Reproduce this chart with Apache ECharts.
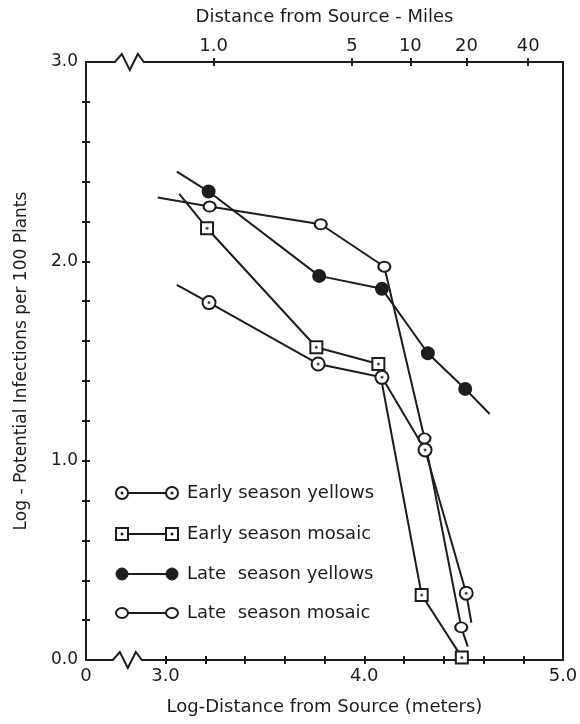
<!DOCTYPE html>
<html>
<head>
<meta charset="utf-8">
<script src="https://cdn.jsdelivr.net/npm/echarts@6/dist/echarts.min.js"></script>
<style>
  html, body { margin: 0; background: #fff; }
  #main { width: 580px; height: 724px; }
</style>
</head>
<body>
<div id="main"></div>
<script>
// axis ticks and labels (x = log distance in meters)
var xTicks = [3.0, 3.2, 3.4, 3.6, 3.8, 4.0, 4.2, 4.4, 4.6, 4.8];
var xLabels = [2.6, 3.0, 4.0, 5.0];
var yTicks = [0.2, 0.4, 0.6, 0.8, 1.0, 1.2, 1.4, 1.6, 1.8, 2.0, 2.2, 2.4, 2.6, 2.8];
var yLabels = [0, 1, 2, 3];
// top axis: miles, placed at their log-meter position
var mileTicks = [3.242, 3.938, 4.232, 4.514, 4.825];
var mileLabels = ["1.0", "5", "10", "20", "40"];

// Early season yellows
var eyX = [3.219, 3.768, 4.089, 4.306, 4.513];
var eyY = [1.793, 1.485, 1.418, 1.054, 0.335];
var eyLead = [3.057, 1.882];
var eyTail = [4.539, 0.187];
// Early season mosaic
var emX = [3.209, 3.759, 4.071, 4.289, 4.491];
var emY = [2.166, 1.569, 1.485, 0.326, 0.013];
var emLead = [3.069, 2.338];
// Late season yellows
var lyX = [3.217, 3.773, 4.089, 4.32, 4.508];
var lyY = [2.35, 1.927, 1.862, 1.539, 1.36];
var lyLead = [3.057, 2.45];
var lyTail = [4.631, 1.234];
// Late season mosaic
var lmX = [3.222, 3.781, 4.101, 4.303, 4.488];
var lmY = [2.275, 2.186, 1.973, 1.112, 0.164];
var lmLead = [2.961, 2.32];
var lmTail = [4.521, 0.067];

var INK = "#1d1d1d";
var FONT = "DejaVu Sans";

var chart = echarts.init(document.getElementById("main"));

function pts(xs, ys) {
  var out = [];
  for (var i = 0; i < xs.length; i++) out.push([xs[i], ys[i]]);
  return out;
}

function lineSeries(name, xs, ys, lead, tail, symbol, size, fill) {
  var data = [];
  if (lead) data.push({ value: lead, symbol: "none" });
  data = data.concat(pts(xs, ys));
  if (tail) data.push({ value: tail, symbol: "none" });
  return {
    name: name,
    type: "line",
    data: data,
    symbol: symbol,
    symbolSize: size,
    showAllSymbol: true,
    lineStyle: { color: INK, width: 2 },
    itemStyle: { color: fill, borderColor: INK, borderWidth: 2 },
    z: 3,
  };
}

function dotSeries(xs, ys) {
  return {
    type: "scatter",
    data: pts(xs, ys),
    symbol: "circle",
    symbolSize: 3,
    itemStyle: { color: INK },
    z: 5,
  };
}

var baseX = { type: "value", min: 2.6, max: 5.0, splitLine: { show: false } };
var baseY = { type: "value", min: 0, max: 3, splitLine: { show: false } };
var axisLine = { show: true, onZero: false, lineStyle: { color: INK, width: 2 } };
var noLine = { show: false, onZero: false };
var tickStyle = { color: INK, width: 2 };

var option = {
  backgroundColor: "#fff",
  animation: false,
  grid: { left: 86, right: 17, top: 62, bottom: 64, outerBoundsMode: "none", containLabel: false },
  xAxis: [
    Object.assign({}, baseX, {
      position: "bottom",
      name: "Log-Distance from Source (meters)",
      nameLocation: "middle",
      nameGap: 38,
      nameTextStyle: { fontFamily: FONT, fontSize: 18, color: INK },
      axisLine: axisLine,
      axisTick: { show: true, inside: false, length: 4, customValues: xTicks, lineStyle: tickStyle },
      axisLabel: {
        customValues: xLabels,
        margin: 7,
        fontFamily: FONT, fontSize: 18, color: INK,
        formatter: function (v) { return v === 2.6 ? "0" : v.toFixed(1); },
      },
    }),
    Object.assign({}, baseX, {
      position: "top",
      name: "Distance from Source - Miles",
      nameLocation: "middle",
      nameGap: 36,
      nameTextStyle: { fontFamily: FONT, fontSize: 18, color: INK },
      axisLine: axisLine,
      axisTick: { show: true, inside: false, length: 4, customValues: mileTicks, lineStyle: tickStyle },
      axisLabel: {
        customValues: mileTicks,
        margin: 7,
        fontFamily: FONT, fontSize: 18, color: INK,
        formatter: function (v) {
          var i = mileTicks.indexOf(v);
          return i >= 0 ? mileLabels[i] : "";
        },
      },
    }),
    Object.assign({}, baseX, {
      position: "bottom",
      axisLine: noLine,
      axisTick: { show: true, inside: true, length: 4, customValues: xTicks, lineStyle: tickStyle },
      axisLabel: { show: false },
    }),
    Object.assign({}, baseX, {
      position: "top",
      axisLine: noLine,
      axisTick: { show: true, inside: true, length: 4, customValues: mileTicks, lineStyle: tickStyle },
      axisLabel: { show: false },
    }),
  ],
  yAxis: [
    Object.assign({}, baseY, {
      position: "left",
      name: "Log - Potential Infections per 100 Plants",
      nameLocation: "middle",
      nameGap: 56,
      nameTextStyle: { fontFamily: FONT, fontSize: 17, color: INK },
      axisLine: axisLine,
      axisTick: { show: true, inside: false, length: 4, customValues: yTicks, lineStyle: tickStyle },
      axisLabel: {
        customValues: yLabels,
        margin: 8,
        fontFamily: FONT, fontSize: 17, color: INK,
        formatter: function (v) { return v.toFixed(1); },
      },
    }),
    Object.assign({}, baseY, {
      position: "left",
      axisLine: noLine,
      axisTick: { show: true, inside: true, length: 4, customValues: yTicks, lineStyle: tickStyle },
      axisLabel: { show: false },
    }),
    Object.assign({}, baseY, {
      position: "right",
      axisLine: axisLine,
      axisTick: { show: false },
      axisLabel: { show: false },
    }),
  ],
  series: [
    lineSeries("Early season yellows", eyX, eyY, eyLead, eyTail, "circle", 13, "#fff"),
    lineSeries("Early season mosaic", emX, emY, emLead, null, "rect", 12, "#fff"),
    lineSeries("Late season yellows", lyX, lyY, lyLead, lyTail, "circle", 12, INK),
    lineSeries("Late season mosaic", lmX, lmY, lmLead, lmTail, "circle", [12, 10], "#fff"),
    dotSeries(eyX, eyY),
    dotSeries(emX, emY),
  ],
};

chart.setOption(option);

// axis breaks (zigzag) and hand-drawn style legend
function zigzag(x0, y) {
  return [
    { type: "rect", shape: { x: x0 - 1, y: y - 3, width: 31, height: 6 }, style: { fill: "#fff" }, z: 20 },
    {
      type: "polyline",
      shape: { points: [[x0 - 2, y], [x0, y], [x0 + 7, y - 8], [x0 + 15, y + 8], [x0 + 23, y - 8], [x0 + 29, y], [x0 + 31, y]] },
      style: { stroke: INK, lineWidth: 2, fill: null },
      z: 21,
    },
  ];
}

var p0 = chart.convertToPixel({ xAxisIndex: 0, yAxisIndex: 0 }, [2.735, 0]);
var p3 = chart.convertToPixel({ xAxisIndex: 0, yAxisIndex: 0 }, [2.745, 3]);

var legendNames = ["Early season yellows", "Early season mosaic", "Late  season yellows", "Late  season mosaic"];
var legendY = [493, 534, 574, 613];

function legendSymbol(i, cx, cy) {
  if (i === 0) {
    return [
      { type: "circle", shape: { cx: cx, cy: cy, r: 6 }, style: { fill: "#fff", stroke: INK, lineWidth: 2 }, z: 31 },
      { type: "circle", shape: { cx: cx, cy: cy, r: 1.5 }, style: { fill: INK }, z: 32 },
    ];
  }
  if (i === 1) {
    return [
      { type: "rect", shape: { x: cx - 6, y: cy - 6, width: 12, height: 12 }, style: { fill: "#fff", stroke: INK, lineWidth: 2 }, z: 31 },
      { type: "circle", shape: { cx: cx, cy: cy, r: 1.5 }, style: { fill: INK }, z: 32 },
    ];
  }
  if (i === 2) {
    return [{ type: "circle", shape: { cx: cx, cy: cy, r: 6 }, style: { fill: INK, stroke: INK, lineWidth: 1 }, z: 31 }];
  }
  return [{ type: "ellipse", shape: { cx: cx, cy: cy, rx: 6, ry: 5 }, style: { fill: "#fff", stroke: INK, lineWidth: 2 }, z: 31 }];
}

var graphics = zigzag(p0[0], p0[1]).concat(zigzag(p3[0], p3[1]));
for (var i = 0; i < legendNames.length; i++) {
  var y = legendY[i];
  graphics.push({ type: "line", shape: { x1: 122, y1: y, x2: 172, y2: y }, style: { stroke: INK, lineWidth: 2 }, z: 30 });
  graphics = graphics.concat(legendSymbol(i, 122, y), legendSymbol(i, 172, y));
  graphics.push({
    type: "text",
    x: 187,
    y: y,
    style: { text: legendNames[i], fontFamily: FONT, fontSize: 18, fill: INK, textVerticalAlign: "middle" },
    z: 30,
  });
}

chart.setOption({ graphic: graphics });
</script>
</body>
</html>
